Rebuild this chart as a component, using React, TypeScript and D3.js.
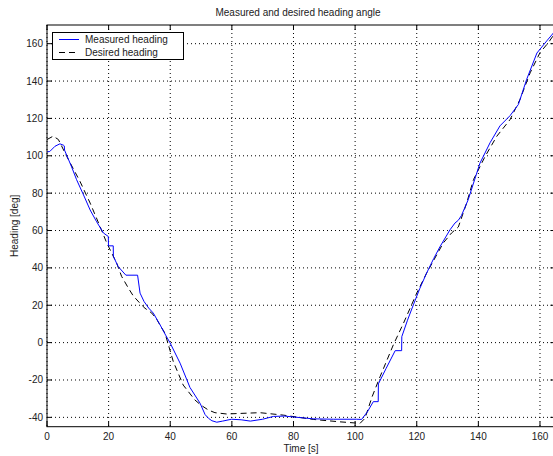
import React from "react";
import * as d3 from "d3";

const measuredT = [0, 0.9, 2.6, 4.2, 5.4, 5.6, 5.7, 8, 9.6, 12, 14, 16, 18.3, 19.9, 19.95, 21.5, 21.55, 23.1, 25.6, 29.4, 30.2, 31.5, 33, 34.5, 36.7, 38.5, 39.9, 43.2, 46.4, 49.7, 51.3, 52.4, 53.5, 55.1, 57, 59.9, 63, 66, 70, 73.5, 77, 80, 86.4, 93, 100.5, 102.1, 104, 105.9, 107.5, 107.55, 110, 113, 115.1, 115.15, 117, 118.9, 121, 123.2, 125.5, 127.6, 130.8, 132.4, 133.5, 134.5, 136.7, 140.5, 143.8, 147, 150.3, 153, 155.7, 159, 162.2, 165];
const measuredV = [102.1, 102.3, 105.1, 106.4, 105.6, 105.3, 103, 94, 87.2, 78.5, 71, 65, 58.7, 56.8, 51.8, 51.8, 46.1, 40.7, 36.1, 36.1, 26.5, 22, 18.5, 15.8, 9.5, 4, 0, -11, -24, -32.5, -38.5, -40.5, -41.8, -42.6, -42, -41, -41.3, -42, -41, -39.5, -39.3, -39.8, -40.8, -41, -41, -41.1, -37, -31.6, -31.6, -22.1, -14, -4.3, -4.3, 3.2, 12, 20.2, 29, 37.2, 45, 51.5, 60.4, 64, 65.5, 68, 76.5, 96, 107, 116, 121.5, 127.5, 141, 155, 161.5, 167];

const desiredT = [0, 2, 3.7, 6.4, 10.7, 14, 17.2, 19.4, 22.6, 24.2, 26.4, 28, 30.2, 31.8, 34, 35.6, 37, 38.3, 41, 44.2, 48, 50, 52.4, 54.5, 58.3, 62.6, 69.1, 76.7, 86.4, 95.1, 101.6, 103.2, 105.5, 108.1, 112.4, 115.7, 120, 123.2, 128.6, 131.3, 133.5, 136.2, 138.4, 142.2, 146, 150.3, 153.5, 156.8, 160, 162.7, 165];
const desiredV = [108.7, 110.5, 108.7, 99.7, 86.3, 74.7, 62.2, 53.3, 42.6, 35.5, 29.2, 25, 21, 18.4, 15.8, 12.5, 8.5, 5, -10.2, -22.7, -30.7, -33.5, -36.1, -37.5, -38.2, -37.9, -37.5, -38.8, -41.1, -42.4, -43.2, -40.5, -29, -18.2, -1.2, 10.4, 26.5, 37.2, 53.3, 58.7, 61.9, 74.7, 87.2, 99.7, 110.5, 119.4, 130.1, 144.4, 155.2, 160.5, 166];

const xTicks = [0, 20, 40, 60, 80, 100, 120, 140, 160];
const yTicks = [-40, -20, 0, 20, 40, 60, 80, 100, 120, 140, 160];

const W = 553;
const H = 456;
const L = 47;
const R = 555.4;
const T = 25;
const B = 426.7;
const FONT = "'Liberation Sans', Arial, Helvetica, sans-serif";

export default function App() {
  const x = d3.scaleLinear().domain([0, 165]).range([L, R]);
  const y = d3.scaleLinear().domain([-45, 170]).range([B, T]);
  const line = d3
    .line<[number, number]>()
    .x((d) => x(d[0]))
    .y((d) => y(d[1]));
  const measured = measuredT.map((t, i) => [t, measuredV[i]] as [number, number]);
  const desired = desiredT.map((t, i) => [t, desiredV[i]] as [number, number]);

  return (
    <svg
      width={W}
      height={H}
      style={{ position: "absolute", left: 0, top: 0, background: "#fff" }}
      fontFamily={FONT}
    >
      <defs>
        <clipPath id="plotclip">
          <rect x={L} y={T} width={R - L} height={B - T} />
        </clipPath>
      </defs>
      <rect x={0} y={0} width={W} height={H} fill="#fff" />
      {/* grid */}
      {xTicks.map((t) => (
        <line key={"gx" + t} x1={x(t)} x2={x(t)} y1={T} y2={B} stroke="#000" strokeWidth={1} strokeDasharray="1,3" />
      ))}
      {yTicks.map((t) => (
        <line key={"gy" + t} x1={L} x2={R} y1={y(t)} y2={y(t)} stroke="#000" strokeWidth={1} strokeDasharray="1,3" />
      ))}
      {/* ticks */}
      {xTicks.map((t) => (
        <g key={"tx" + t}>
          <line x1={x(t)} x2={x(t)} y1={B} y2={B - 5} stroke="#000" />
          <line x1={x(t)} x2={x(t)} y1={T} y2={T + 5} stroke="#000" />
          <text x={x(t)} y={440} fontSize={10} textAnchor="middle" fill="#222">
            {t}
          </text>
        </g>
      ))}
      {yTicks.map((t) => (
        <g key={"ty" + t}>
          <line x1={L} x2={L + 5} y1={y(t)} y2={y(t)} stroke="#000" />
          <line x1={R} x2={R - 5} y1={y(t)} y2={y(t)} stroke="#000" />
          <text x={43} y={y(t) + 3.5} fontSize={10} textAnchor="end" fill="#222">
            {t}
          </text>
        </g>
      ))}
      {/* data */}
      <g clipPath="url(#plotclip)">
        <path d={line(desired) || ""} fill="none" stroke="#000" strokeWidth={1} strokeDasharray="6,4" />
        <path d={line(measured) || ""} fill="none" stroke="#0000ff" strokeWidth={1} />
      </g>
      {/* box */}
      <rect x={L} y={T} width={R - L} height={B - T} fill="none" stroke="#000" strokeWidth={1} />
      {/* legend */}
      <rect x={52.5} y={32.5} width={131} height={27} fill="#fff" stroke="#000" strokeWidth={1} />
      <line x1={59} x2={79} y1={39.5} y2={39.5} stroke="#0000ff" />
      <text x={85} y={43} fontSize={10} fill="#222">Measured heading</text>
      <line x1={59} x2={79} y1={52.5} y2={52.5} stroke="#000" strokeDasharray="6,4" />
      <text x={85} y={56} fontSize={10} fill="#222">Desired heading</text>
      {/* titles */}
      <text x={298} y={16} fontSize={10} textAnchor="middle" fill="#222">
        Measured and desired heading angle
      </text>
      <text x={301} y={452} fontSize={10} textAnchor="middle" fill="#222">
        Time [s]
      </text>
      <text transform={`translate(18, ${(T + B) / 2}) rotate(-90)`} fontSize={10} textAnchor="middle" fill="#222">
        Heading [deg]
      </text>
    </svg>
  );
}
